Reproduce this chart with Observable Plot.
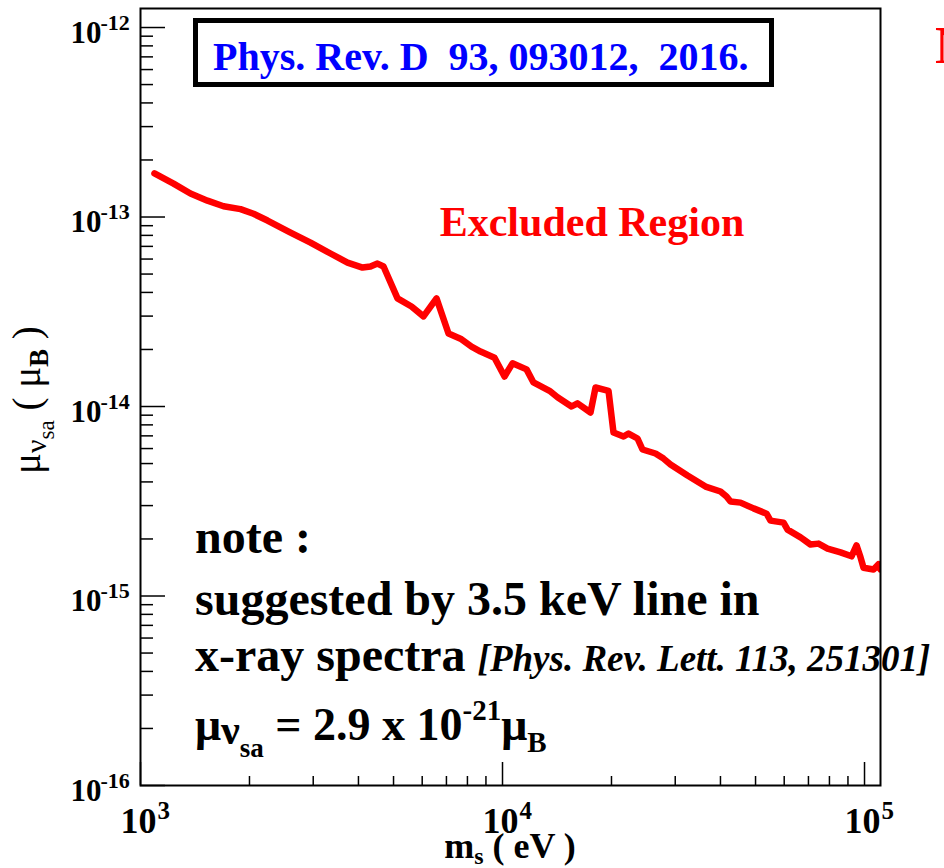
<!DOCTYPE html>
<html>
<head>
<meta charset="utf-8">
<script src="https://cdn.jsdelivr.net/npm/d3@7"></script>
<script src="https://cdn.jsdelivr.net/npm/@observablehq/plot@0.6"></script>
<style>
  html, body { margin: 0; padding: 0; background: #fff; }
  svg { display: block; }
</style>
</head>
<body>
<div id="chart"></div>
<script>
// ---- data (mass in eV, magnetic moment limit in Bohr magnetons)
const massEV = [1093, 1234, 1374, 1531, 1696, 1889, 2052, 2243, 2597, 2949,
  3348, 3731, 4105, 4318, 4515, 4692, 5128, 5605, 6050, 6572,
  7093, 7656, 8211, 8697, 9504, 10128, 10656, 11651, 12176, 13486,
  14189, 15509, 16113, 17505, 18071, 19628, 20260, 21596, 22292, 23603,
  24364, 26466, 27849, 29115, 32437, 36375, 40013, 41567, 42638, 45443,
  49360, 53620, 55000, 59740, 61290, 66580, 70930, 74640, 79050, 85860,
  92070, 95040, 97500, 99370, 105900, 109300, 110700];
const muLimit = [1.70e-13, 1.50e-13, 1.33e-13, 1.22e-13, 1.14e-13, 1.10e-13, 1.04e-13, 9.58e-14, 8.28e-14, 7.33e-14,
  6.42e-14, 5.75e-14, 5.41e-14, 5.48e-14, 5.68e-14, 5.48e-14, 3.72e-14, 3.37e-14, 2.99e-14, 3.72e-14,
  2.43e-14, 2.28e-14, 2.07e-14, 1.95e-14, 1.81e-14, 1.44e-14, 1.69e-14, 1.57e-14, 1.34e-14, 1.21e-14,
  1.12e-14, 1.00e-14, 1.04e-14, 9.30e-15, 1.26e-14, 1.21e-14, 7.29e-15, 6.95e-15, 7.20e-15, 6.78e-15,
  5.93e-15, 5.65e-15, 5.31e-15, 4.94e-15, 4.32e-15, 3.78e-15, 3.56e-15, 3.35e-15, 3.15e-15, 3.11e-15,
  2.90e-15, 2.72e-15, 2.50e-15, 2.44e-15, 2.24e-15, 2.04e-15, 1.87e-15, 1.89e-15, 1.78e-15, 1.70e-15,
  1.62e-15, 1.85e-15, 1.60e-15, 1.41e-15, 1.38e-15, 1.47e-15, 1.38e-15];

// ---- axis ticks and labels
const xDomain = [1000, 110700];
const yDomain = [1e-16, 1.26e-12];
const xMajor = [1e3, 1e4, 1e5];
const xExponent = ["3", "4", "5"];
const xMinor = [2e3, 3e3, 4e3, 5e3, 6e3, 7e3, 8e3, 9e3, 2e4, 3e4, 4e4, 5e4, 6e4, 7e4, 8e4, 9e4];
const yMajor = [1e-16, 1e-15, 1e-14, 1e-13, 1e-12];
const yExponent = ["-16", "-15", "-14", "-13", "-12"];
const yMinor = [2e-16, 3e-16, 4e-16, 5e-16, 6e-16, 7e-16, 8e-16, 9e-16,
  2e-15, 3e-15, 4e-15, 5e-15, 6e-15, 7e-15, 8e-15, 9e-15,
  2e-14, 3e-14, 4e-14, 5e-14, 6e-14, 7e-14, 8e-14, 9e-14,
  2e-13, 3e-13, 4e-13, 5e-13, 6e-13, 7e-13, 8e-13, 9e-13];

const curve = massEV.map((m, i) => ({m, mu: muLimit[i]}));

const W = 944, H = 868, mL = 140, mR = 64, mT = 8, mB = 83;
const pw = W - mL - mR, ph = H - mT - mB;
const serif = "'Liberation Serif', 'Times New Roman', Times, serif";

const svg = Plot.plot({
  width: W, height: H,
  marginLeft: mL, marginRight: mR, marginTop: mT, marginBottom: mB,
  x: {type: "log", domain: xDomain, axis: null},
  y: {type: "log", domain: yDomain, axis: null},
  style: {fontFamily: serif, background: "white", overflow: "hidden"},
  marks: [
    Plot.line(curve, {x: "m", y: "mu", stroke: "#ff0000", strokeWidth: 6.5, clip: true, strokeLinejoin: "round"}),
    Plot.tickY(yMajor, {y: d => d, stroke: "black", strokeWidth: 1.5, insetRight: pw - 25}),
    Plot.tickY(yMinor, {y: d => d, stroke: "black", strokeWidth: 1.5, insetRight: pw - 13}),
    Plot.tickX(xMajor, {x: d => d, stroke: "black", strokeWidth: 1.5, insetTop: ph - 23}),
    Plot.tickX(xMinor, {x: d => d, stroke: "black", strokeWidth: 1.5, insetTop: ph - 9}),
    Plot.frame({stroke: "black", strokeWidth: 2}),
    // y tick labels 10^k
    Plot.text(yMajor, {y: d => d, frameAnchor: "left", text: () => "10", textAnchor: "end", lineAnchor: "bottom",
      dx: -39, dy: 15, fontSize: 31, fontWeight: "bold", fill: "black"}),
    Plot.text(yMajor, {y: d => d, frameAnchor: "left", text: (d, i) => yExponent[i], textAnchor: "start", lineAnchor: "bottom",
      dx: -40, dy: 2, fontSize: 22, fontWeight: "bold", fill: "black"}),
    // x tick labels 10^k
    Plot.text(xMajor, {x: d => d, frameAnchor: "bottom", text: () => "10", textAnchor: "middle", lineAnchor: "bottom",
      dx: -2, dy: 47, fontSize: 36, fontWeight: "bold", fill: "black"}),
    Plot.text(xMajor, {x: d => d, frameAnchor: "bottom", text: (d, i) => xExponent[i], textAnchor: "start", lineAnchor: "bottom",
      dx: 17, dy: 33, fontSize: 25, fontWeight: "bold", fill: "black"})
  ]
});

document.getElementById("chart").appendChild(svg);

// ---- annotations (rich text with sub/superscripts)
const root = d3.select(svg);
const g = root.append("g").attr("font-family", serif).attr("text-anchor", "start");

function rich(x, y, parts, attrs = {}) {
  const t = g.append("text").attr("x", x).attr("y", y).attr("text-anchor", "start").style("white-space", "pre");
  Object.entries(attrs).forEach(([k, v]) => t.attr(k, v));
  let cur = 0;
  parts.forEach(p => {
    const s = t.append("tspan").text(p.t).attr("font-size", p.s);
    const b = p.b || 0;
    if (b !== cur) { s.attr("dy", b - cur); cur = b; }
    if (p.w) s.attr("font-weight", p.w);
    if (p.i) s.attr("font-style", "italic");
  });
  return t;
}

// reference box
g.append("rect").attr("x", 195.5).attr("y", 20.5).attr("width", 576).attr("height", 64)
  .attr("fill", "white").attr("stroke", "black").attr("stroke-width", 5);
rich(213, 69.5, [{t: "Phys. Rev. D  93, 093012,  2016.", s: 40}],
  {"font-weight": "bold", fill: "#0000ff"});

rich(592, 236, [{t: "Excluded Region", s: 42}], {"font-weight": "bold", fill: "#ff0000", "text-anchor": "middle"});
rich(935, 63, [{t: "N", s: 52}], {"font-weight": "bold", fill: "#ff0000"});

rich(195, 553, [{t: "note :", s: 48}], {"font-weight": "bold", fill: "black"});
rich(195, 615, [{t: "suggested by 3.5 keV line in", s: 48}], {"font-weight": "bold", fill: "black"});
rich(195, 671, [{t: "x-ray spectra ", s: 48}, {t: "[Phys. Rev. Lett. 113, 251301]", s: 37, i: true}],
  {"font-weight": "bold", fill: "black"});
rich(195, 740, [
  {t: "μ", s: 46},
  {t: "ν", s: 42, b: 4},
  {t: "sa", s: 27, b: 17},
  {t: " = 2.9 x 10", s: 46, b: 0},
  {t: "-21", s: 29, b: -20},
  {t: "μ", s: 46, b: 0},
  {t: "B", s: 29, b: 12}
], {"font-weight": "bold", fill: "black"});

// x axis title
rich(510, 858, [{t: "m", s: 36}, {t: "s", s: 24, b: 6}, {t: " ( eV )", s: 36, b: 0}],
  {"font-weight": "bold", fill: "black", "text-anchor": "middle"});

// y axis title (rotated)
rich(0, 0, [
  {t: "μ", s: 39},
  {t: "ν", s: 30, b: 6},
  {t: "sa", s: 23, b: 14},
  {t: " ( ", s: 39, b: 0},
  {t: "μ", s: 39, b: 0},
  {t: "B", s: 27, b: 8, w: "bold"},
  {t: " )", s: 39, b: 0}
], {fill: "black", transform: "translate(40,474) rotate(-90)"});
</script>
</body>
</html>
